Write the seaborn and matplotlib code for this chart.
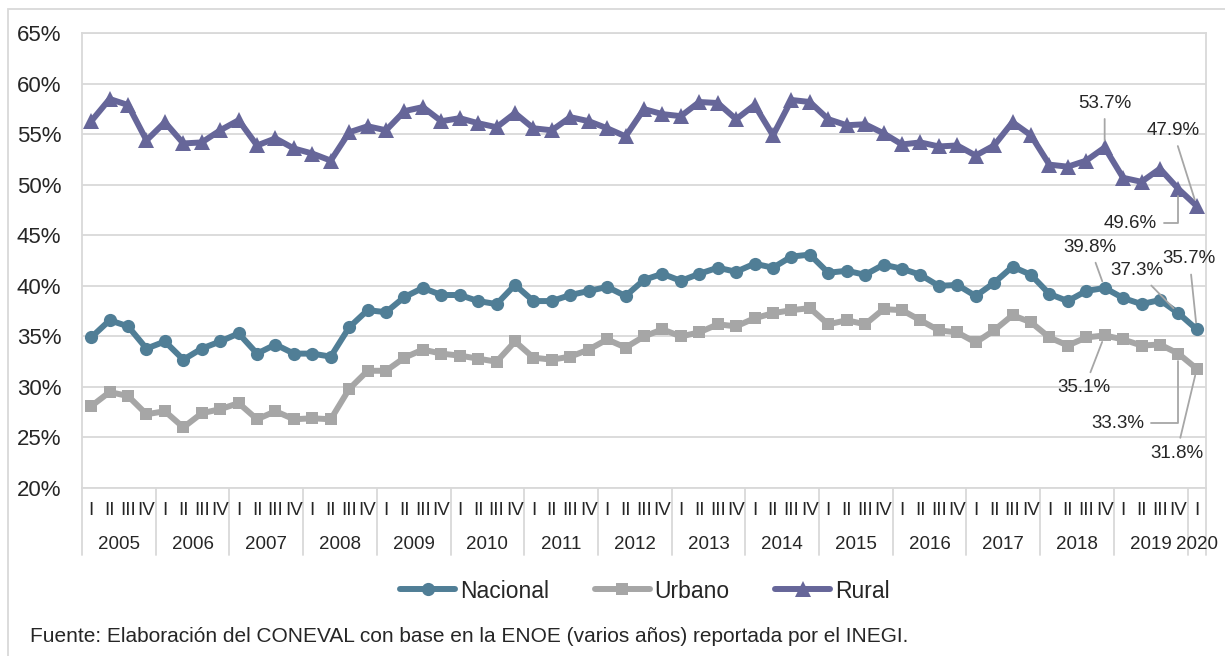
import numpy as np
import pandas as pd
import seaborn as sns
import matplotlib.pyplot as plt
from matplotlib.lines import Line2D
from matplotlib.patches import Rectangle

# -----------------------------
# Data (quarterly, 2005 I - 2020 I)
# -----------------------------
years = ['2005', '2006', '2007', '2008', '2009', '2010', '2011', '2012',
         '2013', '2014', '2015', '2016', '2017', '2018', '2019', '2020']
quarters = ['I', 'II', 'III', 'IV']

nacional = [34.9, 36.6, 36.0, 33.8, 34.5, 32.7, 33.8, 34.5, 35.3, 33.3,
            34.2, 33.3, 33.3, 33.0, 35.9, 37.6, 37.4, 38.9, 39.8, 39.1,
            39.1, 38.5, 38.2, 40.1, 38.5, 38.5, 39.1, 39.5, 39.9, 39.0,
            40.6, 41.2, 40.5, 41.2, 41.8, 41.4, 42.2, 41.8, 42.9, 43.1,
            41.3, 41.5, 41.1, 42.1, 41.7, 41.1, 40.0, 40.1, 39.0, 40.3,
            41.9, 41.1, 39.2, 38.5, 39.5, 39.8, 38.8, 38.2, 38.6, 37.3, 35.7]
urbano = [28.1, 29.5, 29.1, 27.3, 27.6, 26.0, 27.4, 27.8, 28.4, 26.8,
          27.6, 26.8, 26.9, 26.8, 29.8, 31.6, 31.6, 32.9, 33.7, 33.3,
          33.1, 32.8, 32.5, 34.5, 32.9, 32.7, 33.0, 33.7, 34.7, 33.9,
          35.0, 35.7, 35.0, 35.4, 36.2, 36.0, 36.8, 37.3, 37.6, 37.8,
          36.2, 36.6, 36.2, 37.7, 37.6, 36.6, 35.6, 35.4, 34.4, 35.6,
          37.1, 36.4, 34.9, 34.1, 34.9, 35.1, 34.7, 34.1, 34.2, 33.3, 31.8]
rural = [56.3, 58.5, 57.9, 54.4, 56.2, 54.1, 54.2, 55.4, 56.4, 53.9,
         54.6, 53.6, 53.1, 52.4, 55.2, 55.8, 55.4, 57.3, 57.7, 56.3,
         56.6, 56.1, 55.7, 57.1, 55.6, 55.4, 56.7, 56.3, 55.6, 54.8,
         57.5, 57.0, 56.8, 58.2, 58.1, 56.5, 57.9, 54.9, 58.4, 58.2,
         56.5, 55.9, 56.0, 55.1, 54.0, 54.2, 53.8, 53.9, 52.9, 53.9,
         56.2, 54.9, 52.0, 51.8, 52.4, 53.7, 50.7, 50.3, 51.6, 49.6, 47.9]

n = len(nacional)
idx = np.arange(n)
q_labels = [quarters[i % 4] for i in range(n)]

df = pd.DataFrame({'IDX': idx, 'Nacional': nacional, 'Urbano': urbano, 'Rural': rural})

# labelled points: (series, index, text x, text y, elbow)
labels = [
    ('Rural', 55, 55.0, 58.1, False),
    ('Rural', 60, 58.7, 55.4, False),
    ('Rural', 59, 56.4, 46.2, True),
    ('Nacional', 55, 54.2, 43.85, False),
    ('Nacional', 59, 56.75, 41.5, False),
    ('Nacional', 60, 59.6, 42.7, False),
    ('Urbano', 55, 53.9, 29.9, False),
    ('Urbano', 59, 55.7, 26.4, True),
    ('Urbano', 60, 58.9, 23.4, False),
]

colors = {'Nacional': '#507E96', 'Urbano': '#A6A6A6', 'Rural': '#666699'}
markers = {'Nacional': 'o', 'Urbano': 's', 'Rural': '^'}
msizes = {'Nacional': 9.5, 'Urbano': 8, 'Rural': 12}

# -----------------------------
# Plot
# -----------------------------
sns.set_style('white')
plt.rcParams['font.family'] = ['Liberation Sans', 'DejaVu Sans']

W, H = 1225, 656
fig = plt.figure(figsize=(W / 100, H / 100), dpi=100)
ax = fig.add_axes([82 / W, 1 - 488 / H, (1206 - 82) / W, (488 - 33.3) / H])

for name in ['Nacional', 'Urbano', 'Rural']:
    sns.lineplot(data=df, x='IDX', y=name, ax=ax, color=colors[name],
                 linewidth=4.3, marker=markers[name], markersize=msizes[name],
                 markeredgewidth=0, legend=False)

ax.set_xlim(-0.5, n - 0.5)
ax.set_ylim(20, 65)
ax.set_yticks(range(20, 66, 5))
ax.set_yticklabels([f'{v}%' for v in range(20, 66, 5)], fontsize=16)
ax.tick_params(axis='y', length=0, pad=15)
ax.set_xticks([])
ax.set_xlabel('')
ax.set_ylabel('')
ax.grid(axis='y', color='#D9D9D9', linewidth=1.3)
ax.set_axisbelow(True)
for s in ax.spines.values():
    s.set_color('#D9D9D9')
    s.set_linewidth(1.3)

# multi-level category axis
xt = ax.get_xaxis_transform()
for i, q in enumerate(q_labels):
    ax.text(i, -0.05, q, transform=xt, ha='center', va='center', fontsize=13.5)
for k, yr in enumerate(years):
    start = 4 * k - 0.5
    end = min(4 * k + 3.5, n - 0.5)
    ax.text((start + end) / 2, -0.125, yr, transform=xt, ha='center',
            va='center', fontsize=13.5)
    ax.plot([start, start], [0, -0.147], transform=xt, color='#D9D9D9',
            linewidth=1.3, clip_on=False)
ax.plot([n - 0.5, n - 0.5], [0, -0.147], transform=xt, color='#D9D9D9',
        linewidth=1.3, clip_on=False)

# data labels with leader lines
for name, i, tx, ty, elbow in labels:
    val = df.loc[i, name]
    cs = 'angle,angleA=0,angleB=90,rad=0' if elbow else 'arc3'
    ax.annotate(f'{val:.1f}%', xy=(i, val), xytext=(tx, ty),
                ha='center', va='center', fontsize=13.5,
                arrowprops=dict(arrowstyle='-', color='#A6A6A6', lw=1.3,
                                connectionstyle=cs, shrinkA=3, shrinkB=5),
                annotation_clip=False)

# legend
handles = [Line2D([0], [0], color=colors[k], lw=4.3, marker=markers[k],
                  markersize=msizes[k], markeredgewidth=0)
           for k in ['Nacional', 'Urbano', 'Rural']]
fig.legend(handles, ['Nacional', 'Urbano', 'Rural'], loc='center',
           bbox_to_anchor=(645 / W, 1 - 591 / H), ncol=3, frameon=False,
           fontsize=16.5, handlelength=2.4, handletextpad=0.2,
           columnspacing=2.0)

fig.text(30 / W, 1 - 637 / H,
         'Fuente: Elaboración del CONEVAL con base en la ENOE (varios años) reportada por el INEGI.',
         ha='left', va='center', fontsize=15)

# chart frame
fig.patches.append(Rectangle((8 / W, -0.05), 1.2, 1.05 - 9 / H,
                             transform=fig.transFigure, fill=False,
                             edgecolor='#D9D9D9', linewidth=1.3))

plt.savefig('out.png', dpi=100)
